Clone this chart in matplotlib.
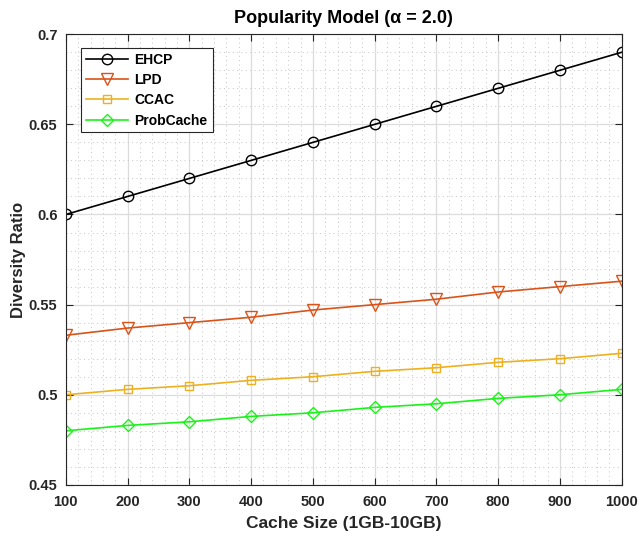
import matplotlib
matplotlib.use('Agg')
import numpy as np
from matplotlib import pyplot as plt
from matplotlib.ticker import MultipleLocator

# data
cache_size = [100, 200, 300, 400, 500, 600, 700, 800, 900, 1000]
ehcp = [0.60, 0.61, 0.62, 0.63, 0.64, 0.65, 0.66, 0.67, 0.68, 0.69]
lpd = [0.533, 0.537, 0.540, 0.543, 0.547, 0.550, 0.553, 0.557, 0.560, 0.563]
ccac = [0.500, 0.503, 0.505, 0.508, 0.510, 0.513, 0.515, 0.518, 0.520, 0.523]
probcache = [0.480, 0.483, 0.485, 0.488, 0.490, 0.493, 0.495, 0.498, 0.500, 0.503]

xticks = [100, 200, 300, 400, 500, 600, 700, 800, 900, 1000]
yticks = [0.45, 0.5, 0.55, 0.6, 0.65, 0.7]
ytick_labels = ['0.45', '0.5', '0.55', '0.6', '0.65', '0.7']

plt.rcParams['font.family'] = ['Liberation Sans', 'DejaVu Sans']
plt.rcParams['font.weight'] = 'bold'

fig = plt.figure(figsize=(6.39, 5.43), dpi=100)
ax = fig.add_axes([0.103, 0.107, 0.870, 0.830])

ax.plot(cache_size, ehcp, color='k', marker='o', ms=7.5, mfc='none', lw=1.2, label='EHCP')
ax.plot(cache_size, lpd, color=(0.85, 0.325, 0.098), marker='v', ms=8, mfc='none', lw=1.2, label='LPD')
ax.plot(cache_size, ccac, color=(0.929, 0.694, 0.125), marker='s', ms=5.5, mfc='none', lw=1.2, label='CCAC')
ax.plot(cache_size, probcache, color=(0.1, 0.95, 0.1), marker='D', ms=6.5, mfc='none', lw=1.2, label='ProbCache')

ax.set_xlim(100, 1000)
ax.set_ylim(0.45, 0.7)
ax.set_xticks(xticks)
ax.set_yticks(yticks)
ax.set_yticklabels(ytick_labels)
ax.xaxis.set_minor_locator(MultipleLocator(20))
ax.yaxis.set_minor_locator(MultipleLocator(0.01))

ax.grid(which='major', color='#dcdcdc', lw=0.9, ls='-')
ax.grid(which='minor', color='#c4c4c4', lw=0.7, ls=(0, (1, 3.5)))
ax.set_axisbelow(True)

ax.tick_params(which='both', direction='in', top=True, right=True, labelsize=10.5, colors='#262626')
ax.tick_params(which='major', length=5)
ax.tick_params(which='minor', length=0)
ax.tick_params(axis='x', pad=7)
ax.tick_params(axis='y', pad=6)
for s in ax.spines.values():
    s.set_color('#262626')
    s.set_linewidth(0.8)

ax.set_title('Popularity Model (α = 2.0)', fontsize=13, fontweight='bold', pad=8)
ax.set_xlabel('Cache Size (1GB-10GB)', fontsize=12.5, fontweight='bold', color='#262626', labelpad=5)
ax.set_ylabel('Diversity Ratio', fontsize=12, fontweight='bold', color='#262626', labelpad=2)

leg = ax.legend(loc='upper left', bbox_to_anchor=(0.015, 0.985), fontsize=10,
                frameon=True, fancybox=False, edgecolor='#262626', framealpha=1,
                handlelength=3.0, borderpad=0.35, labelspacing=0.45, handletextpad=0.5)
leg.get_frame().set_linewidth(0.8)

fig.savefig('out.png', dpi=100)
